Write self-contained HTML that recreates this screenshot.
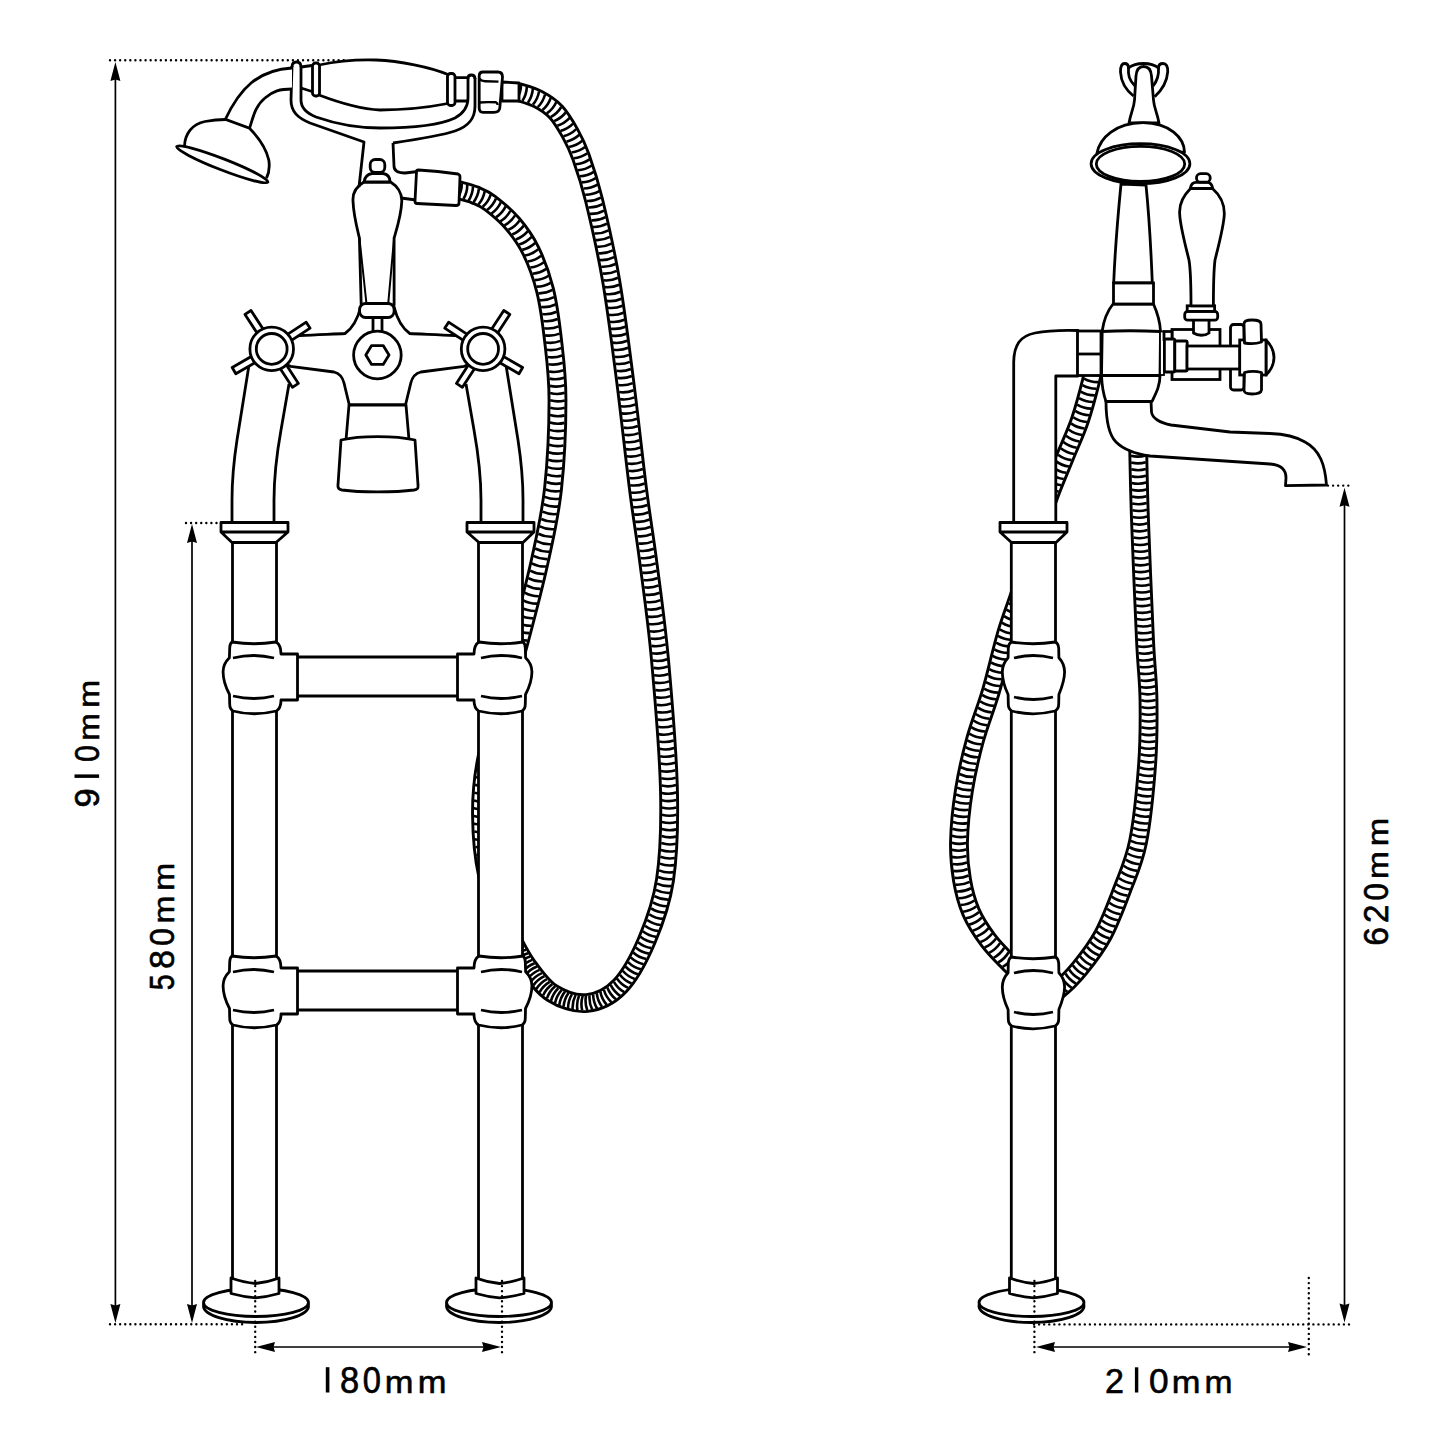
<!DOCTYPE html>
<html><head><meta charset="utf-8"><style>
html,body{margin:0;padding:0;background:#fff;}
svg{display:block;}
text{font-family:"Liberation Sans",sans-serif;fill:#000;}
</style></head><body>
<svg width="1445" height="1445" viewBox="0 0 1445 1445">
<rect width="1445" height="1445" fill="#fff"/>
<g stroke-linecap="butt">
<line x1="115.4" y1="75" x2="115.4" y2="1310" stroke="#000" stroke-width="1.7"/>
<path d="M115.4,62.0 L120.4,81.0 L115.4,79.5 L110.4,81.0 Z" fill="#000"/>
<path d="M115.4,1323.0 L120.4,1304.0 L115.4,1305.5 L110.4,1304.0 Z" fill="#000"/>
<line x1="110" y1="60.3" x2="345" y2="60.3" stroke="#000" stroke-width="2.4" stroke-linecap="round" stroke-dasharray="0.01 5.07"/>
<line x1="110" y1="1324.2" x2="246" y2="1324.2" stroke="#000" stroke-width="2.4" stroke-linecap="round" stroke-dasharray="0.01 5.07"/>
<line x1="192" y1="537" x2="192" y2="1310" stroke="#000" stroke-width="1.7"/>
<path d="M192.0,524.0 L197.0,543.0 L192.0,541.5 L187.0,543.0 Z" fill="#000"/>
<path d="M192.0,1323.0 L197.0,1304.0 L192.0,1305.5 L187.0,1304.0 Z" fill="#000"/>
<line x1="186" y1="523" x2="222" y2="523" stroke="#000" stroke-width="2.4" stroke-linecap="round" stroke-dasharray="0.01 5.07"/>
<line x1="270" y1="1347" x2="488" y2="1347" stroke="#000" stroke-width="1.7"/>
<path d="M256.0,1347.0 L275.0,1352.0 L273.5,1347.0 L275.0,1342.0 Z" fill="#000"/>
<path d="M501.0,1347.0 L482.0,1352.0 L483.5,1347.0 L482.0,1342.0 Z" fill="#000"/>
</g>
<path d="M517.0,91.5 C520.5,92.8 531.5,95.6 538.0,99.0 C544.5,102.4 550.7,106.3 556.0,112.0 C561.3,117.7 565.8,125.5 570.0,133.0 C574.2,140.5 577.0,145.8 581.0,157.0 C585.0,168.2 589.0,179.5 594.0,200.0 C599.0,220.5 605.8,250.0 611.0,280.0 C616.2,310.0 620.5,345.2 625.0,380.0 C629.5,414.8 634.2,459.0 638.0,489.0 C641.8,519.0 644.3,531.5 648.0,560.0 C651.7,588.5 656.5,621.3 660.0,660.0 C663.5,698.7 668.2,755.3 669.0,792.0 C669.8,828.7 668.7,855.3 665.0,880.0 C661.3,904.7 654.5,922.3 647.0,940.0 C639.5,957.7 630.0,975.5 620.0,986.0 C610.0,996.5 598.3,1001.8 587.0,1003.0 C575.7,1004.2 562.0,999.3 552.0,993.0 C542.0,986.7 534.0,974.7 527.0,965.0 C520.0,955.3 512.8,940.0 510.0,935.0" fill="none" stroke="#000" stroke-width="19.8" stroke-linecap="butt"/>
<path d="M517.0,91.5 C520.5,92.8 531.5,95.6 538.0,99.0 C544.5,102.4 550.7,106.3 556.0,112.0 C561.3,117.7 565.8,125.5 570.0,133.0 C574.2,140.5 577.0,145.8 581.0,157.0 C585.0,168.2 589.0,179.5 594.0,200.0 C599.0,220.5 605.8,250.0 611.0,280.0 C616.2,310.0 620.5,345.2 625.0,380.0 C629.5,414.8 634.2,459.0 638.0,489.0 C641.8,519.0 644.3,531.5 648.0,560.0 C651.7,588.5 656.5,621.3 660.0,660.0 C663.5,698.7 668.2,755.3 669.0,792.0 C669.8,828.7 668.7,855.3 665.0,880.0 C661.3,904.7 654.5,922.3 647.0,940.0 C639.5,957.7 630.0,975.5 620.0,986.0 C610.0,996.5 598.3,1001.8 587.0,1003.0 C575.7,1004.2 562.0,999.3 552.0,993.0 C542.0,986.7 534.0,974.7 527.0,965.0 C520.0,955.3 512.8,940.0 510.0,935.0" fill="none" stroke="#fff" stroke-width="14.0" stroke-linecap="butt"/>
<path d="M516.72,99.09 Q520.81,92.72 521.08,85.15 M522.45,100.85 Q526.55,94.49 526.84,86.92 M527.92,102.67 Q532.26,96.46 532.82,88.91 M532.96,104.66 Q537.82,98.86 539.05,91.40 M537.76,107.19 Q543.13,101.85 545.03,94.52 M542.48,110.11 Q548.25,105.20 550.71,98.04 M546.80,113.35 Q553.04,109.06 556.21,102.18 M550.71,117.03 Q557.38,113.44 561.28,106.96 M554.10,121.12 Q561.15,118.37 565.82,112.41 M557.33,125.82 Q564.56,123.58 569.64,117.97 M560.43,130.91 Q567.74,128.96 573.04,123.56 M563.45,136.25 Q570.81,134.45 576.21,129.15 M566.41,141.66 Q573.80,140.01 579.31,134.82 M569.09,147.01 Q576.55,145.72 582.31,140.82 M571.48,152.49 Q578.99,151.60 585.01,147.01 M573.68,158.22 Q581.22,157.60 587.40,153.22 M575.82,164.20 Q583.36,163.66 589.58,159.34 M577.89,170.20 Q585.45,169.77 591.72,165.54 M579.86,176.23 Q587.42,175.94 593.78,171.84 M581.73,182.34 Q589.29,182.18 595.72,178.19 M583.48,188.49 Q591.05,188.48 597.56,184.62 M585.15,194.73 Q592.72,194.84 599.28,191.08 M586.74,201.04 Q594.31,201.24 600.92,197.56 M588.29,207.45 Q595.86,207.69 602.49,204.04 M589.83,213.90 Q597.39,214.17 604.04,210.55 M591.35,220.39 Q598.91,220.69 605.57,217.09 M592.84,226.90 Q600.40,227.24 607.08,223.67 M594.31,233.46 Q601.87,233.83 608.56,230.29 M595.75,240.04 Q603.31,240.45 610.02,236.95 M597.16,246.65 Q604.71,247.12 611.45,243.66 M598.53,253.31 Q606.09,253.82 612.84,250.40 M599.88,260.00 Q607.42,260.56 614.20,257.19 M601.18,266.73 Q608.72,267.34 615.52,264.01 M602.43,273.50 Q609.97,274.16 616.80,270.88 M603.64,280.30 Q611.18,281.02 618.03,277.80 M604.80,287.14 Q612.33,287.92 619.20,284.75 M605.91,294.00 Q613.43,294.84 620.33,291.72 M606.98,300.90 Q614.49,301.78 621.41,298.70 M608.01,307.81 Q615.52,308.73 622.46,305.69 M609.01,314.74 Q616.52,315.70 623.47,312.69 M609.99,321.70 Q617.50,322.68 624.45,319.69 M610.95,328.67 Q618.45,329.67 625.42,326.70 M611.89,335.66 Q619.39,336.68 626.36,333.73 M612.82,342.66 Q620.31,343.69 627.29,340.76 M613.73,349.68 Q621.23,350.72 628.21,347.80 M614.64,356.71 Q622.14,357.76 629.12,354.84 M615.55,363.76 Q623.05,364.81 630.03,361.90 M616.46,370.82 Q623.95,371.87 630.94,368.96 M617.37,377.89 Q624.86,378.94 631.85,376.03 M618.28,384.96 Q625.77,386.02 632.76,383.12 M619.16,392.03 Q626.65,393.12 633.65,390.24 M620.03,399.12 Q627.52,400.22 634.52,397.36 M620.89,406.22 Q628.37,407.34 635.38,404.49 M621.73,413.34 Q629.21,414.47 636.23,411.63 M622.57,420.47 Q630.05,421.61 637.07,418.78 M623.40,427.62 Q630.88,428.76 637.90,425.94 M624.22,434.78 Q631.71,435.93 638.73,433.10 M625.05,441.95 Q632.53,443.10 639.56,440.28 M625.88,449.13 Q633.36,450.28 640.38,447.46 M626.71,456.33 Q634.20,457.47 641.22,454.64 M627.56,463.54 Q635.04,464.67 642.06,461.84 M628.41,470.76 Q635.89,471.88 642.91,469.04 M629.28,477.99 Q636.76,479.10 643.77,476.24 M630.17,485.25 Q637.66,486.33 644.66,483.45 M631.09,492.52 Q638.59,493.56 645.57,490.64 M632.05,499.79 Q639.56,500.80 646.52,497.84 M633.06,507.08 Q640.56,508.04 647.51,505.05 M634.10,514.36 Q641.61,515.29 648.55,512.26 M635.17,521.64 Q642.69,522.54 649.61,519.49 M636.26,528.91 Q643.77,529.81 650.70,526.75 M637.34,536.17 Q644.85,537.08 651.78,534.04 M638.39,543.42 Q645.90,544.37 652.84,541.36 M639.40,550.69 Q646.91,551.68 653.87,548.70 M640.37,557.96 Q647.87,559.00 654.85,556.07 M641.33,565.30 Q648.82,566.33 655.80,563.40 M642.29,572.65 Q649.79,573.67 656.77,570.73 M643.27,579.99 Q650.77,581.00 657.74,578.06 M644.24,587.32 Q651.74,588.34 658.72,585.40 M645.21,594.65 Q652.71,595.68 659.69,592.74 M646.16,601.97 Q653.66,603.02 660.64,600.10 M647.10,609.29 Q654.59,610.36 661.58,607.46 M648.00,616.60 Q655.49,617.70 662.49,614.83 M648.88,623.92 Q656.36,625.05 663.38,622.21 M649.72,631.23 Q657.20,632.40 664.23,629.60 M650.53,638.55 Q658.00,639.76 665.05,636.99 M651.30,645.88 Q658.77,647.12 665.83,644.38 M652.03,653.19 Q659.49,654.48 666.56,651.79 M652.72,660.53 Q660.17,661.85 667.26,659.19 M653.38,667.88 Q660.83,669.22 667.92,666.58 M654.03,675.24 Q661.47,676.60 668.57,673.97 M654.66,682.60 Q662.11,683.97 669.21,681.35 M655.29,689.96 Q662.73,691.34 669.84,688.74 M655.90,697.32 Q663.34,698.72 670.45,696.13 M656.49,704.68 Q663.93,706.09 671.05,703.52 M657.07,712.04 Q664.51,713.47 671.63,710.91 M657.64,719.41 Q665.07,720.85 672.20,718.30 M658.18,726.77 Q665.61,728.23 672.74,725.70 M658.71,734.13 Q666.13,735.61 673.27,733.10 M659.21,741.48 Q666.62,742.99 673.78,740.52 M659.68,748.84 Q667.09,750.38 674.25,747.93 M660.13,756.19 Q667.53,757.77 674.70,755.35 M660.54,763.55 Q667.94,765.16 675.12,762.77 M660.92,770.91 Q668.31,772.55 675.50,770.19 M661.25,778.23 Q668.62,779.94 675.83,777.65 M661.52,785.58 Q668.88,787.34 676.11,785.09 M661.72,792.89 Q669.06,794.73 676.31,792.58 M661.85,800.23 Q669.18,802.13 676.45,800.03 M661.94,807.53 Q669.25,809.47 676.54,807.41 M661.95,814.76 Q669.25,816.77 676.55,814.77 M661.90,821.93 Q669.18,824.01 676.50,822.09 M661.77,829.04 Q669.03,831.21 676.37,829.37 M661.56,836.07 Q668.78,838.35 676.15,836.63 M661.25,843.06 Q668.44,845.44 675.84,843.82 M660.85,850.00 Q668.00,852.47 675.41,850.96 M660.33,856.84 Q667.43,859.45 674.88,858.08 M659.69,863.65 Q666.75,866.37 674.22,865.12 M658.94,870.35 Q665.94,873.23 673.43,872.14 M658.05,877.04 Q665.01,880.03 672.51,879.06 M657.04,883.56 Q663.90,886.75 671.43,886.00 M655.84,889.94 Q662.59,893.36 670.14,892.87 M654.45,896.19 Q661.08,899.84 668.65,899.60 M652.88,902.33 Q659.39,906.19 666.96,906.19 M651.13,908.34 Q657.52,912.40 665.08,912.63 M649.22,914.23 Q655.49,918.47 663.05,918.92 M647.16,920.02 Q653.33,924.41 660.87,925.04 M645.00,925.68 Q651.05,930.22 658.58,931.04 M642.73,931.29 Q648.72,935.92 656.23,936.85 M640.41,936.83 Q646.36,941.52 653.86,942.53 M638.07,942.22 Q643.93,947.01 651.41,948.15 M635.67,947.44 Q641.43,952.35 648.89,953.64 M633.23,952.45 Q638.85,957.53 646.27,959.03 M630.69,957.37 Q636.21,962.55 643.59,964.20 M628.10,962.06 Q633.47,967.40 640.80,969.26 M625.47,966.50 Q630.60,972.06 637.86,974.23 M622.72,970.77 Q627.63,976.53 634.79,978.98 M619.88,974.78 Q624.51,980.77 631.55,983.55 M616.92,978.50 Q621.21,984.74 628.08,987.92 M613.92,981.79 Q617.66,988.36 624.23,992.11 M610.64,984.84 Q613.93,991.66 620.24,995.84 M607.31,987.47 Q610.01,994.54 615.93,999.25 M603.87,989.74 Q605.94,997.02 611.43,1002.23 M600.35,991.66 Q601.76,999.09 606.76,1004.77 M596.77,993.22 Q597.50,1000.75 601.97,1006.85 M593.15,994.41 Q593.21,1001.98 597.11,1008.47 M589.54,995.26 Q588.91,1002.80 592.21,1009.61 M585.98,995.76 Q584.64,1003.21 587.28,1010.30 M582.68,995.86 Q580.44,1003.09 582.19,1010.45 M579.11,995.58 Q576.27,1002.60 577.40,1010.08 M575.62,994.99 Q572.16,1001.72 572.60,1009.27 M572.01,994.09 Q568.11,1000.58 568.07,1008.15 M568.52,992.96 Q564.16,999.15 563.56,1006.70 M564.98,991.58 Q560.29,997.52 559.28,1005.02 M561.59,990.02 Q556.53,995.65 555.04,1003.07 M558.22,988.23 Q552.87,993.58 551.00,1000.91 M555.16,986.34 Q549.39,991.23 546.91,998.39 M552.30,984.18 Q546.13,988.57 543.06,995.49 M549.65,981.79 Q543.13,985.63 539.48,992.26 M547.00,979.06 Q540.28,982.54 536.28,988.97 M544.49,976.18 Q537.60,979.31 533.26,985.52 M541.99,973.09 Q535.01,976.01 530.49,982.08 M539.54,969.87 Q532.50,972.64 527.84,978.61 M537.13,966.58 Q530.04,969.23 525.29,975.13 M534.69,963.19 Q527.59,965.82 522.83,971.70 M532.30,959.86 Q525.17,962.39 520.32,968.20 M530.14,956.61 Q522.91,958.85 517.83,964.46 M528.07,953.21 Q520.77,955.23 515.52,960.69 M526.07,949.75 Q518.72,951.56 513.33,956.87 M524.10,946.16 Q516.73,947.87 511.25,953.09 M522.17,942.53 Q514.78,944.15 509.24,949.31 M520.26,938.85 Q512.85,940.42 507.28,945.54 M518.32,935.09 Q510.92,936.68 505.37,941.83" fill="none" stroke="#000" stroke-width="2.6"/>
<path d="M458.0,190.0 C460.8,190.8 469.7,192.8 475.0,195.0 C480.3,197.2 483.7,198.2 490.0,203.0 C496.3,207.8 506.2,216.0 513.0,224.0 C519.8,232.0 525.7,240.0 531.0,251.0 C536.3,262.0 541.3,275.2 545.0,290.0 C548.7,304.8 550.9,321.7 553.0,340.0 C555.1,358.3 557.5,375.2 557.5,400.0 C557.5,424.8 555.9,462.3 553.0,489.0 C550.1,515.7 545.5,534.8 540.0,560.0 C534.5,585.2 526.2,616.7 520.0,640.0 C513.8,663.3 508.7,680.0 503.0,700.0 C497.3,720.0 489.7,740.8 486.0,760.0 C482.3,779.2 480.8,795.8 481.0,815.0 C481.2,834.2 483.0,856.7 487.0,875.0 C491.0,893.3 500.3,913.3 505.0,925.0 C509.7,936.7 513.3,941.7 515.0,945.0" fill="none" stroke="#000" stroke-width="19.8" stroke-linecap="butt"/>
<path d="M458.0,190.0 C460.8,190.8 469.7,192.8 475.0,195.0 C480.3,197.2 483.7,198.2 490.0,203.0 C496.3,207.8 506.2,216.0 513.0,224.0 C519.8,232.0 525.7,240.0 531.0,251.0 C536.3,262.0 541.3,275.2 545.0,290.0 C548.7,304.8 550.9,321.7 553.0,340.0 C555.1,358.3 557.5,375.2 557.5,400.0 C557.5,424.8 555.9,462.3 553.0,489.0 C550.1,515.7 545.5,534.8 540.0,560.0 C534.5,585.2 526.2,616.7 520.0,640.0 C513.8,663.3 508.7,680.0 503.0,700.0 C497.3,720.0 489.7,740.8 486.0,760.0 C482.3,779.2 480.8,795.8 481.0,815.0 C481.2,834.2 483.0,856.7 487.0,875.0 C491.0,893.3 500.3,913.3 505.0,925.0 C509.7,936.7 513.3,941.7 515.0,945.0" fill="none" stroke="#fff" stroke-width="14.0" stroke-linecap="butt"/>
<path d="M458.08,197.59 Q461.86,191.03 461.78,183.46 M463.47,199.00 Q467.30,192.47 467.27,184.90 M468.64,200.49 Q472.74,194.13 473.02,186.56 M473.53,202.28 Q478.09,196.24 478.94,188.71 M478.47,204.34 Q483.41,198.60 484.72,191.15 M482.68,206.73 Q488.38,201.75 490.75,194.56 M487.02,209.92 Q493.09,205.40 496.01,198.41 M491.55,213.56 Q497.74,209.21 500.86,202.31 M496.00,217.36 Q502.33,213.21 505.67,206.42 M500.35,221.34 Q506.83,217.42 510.40,210.75 M504.48,225.45 Q511.16,221.90 515.09,215.43 M508.39,229.86 Q515.26,226.67 519.55,220.44 M512.21,234.56 Q519.21,231.68 523.76,225.63 M515.82,239.45 Q522.95,236.92 527.80,231.11 M519.16,244.55 Q526.43,242.43 531.60,236.91 M522.24,249.89 Q529.62,248.21 535.11,243.00 M525.08,255.53 Q532.53,254.20 538.26,249.26 M527.75,261.44 Q535.24,260.38 541.15,255.64 M530.24,267.51 Q537.76,266.71 543.84,262.19 M532.54,273.73 Q540.09,273.21 546.32,268.91 M534.66,280.13 Q542.23,279.85 548.59,275.75 M536.58,286.64 Q544.15,286.64 550.66,282.79 M538.29,293.31 Q545.86,293.57 552.50,289.94 M539.79,300.12 Q547.34,300.62 554.09,297.20 M541.10,307.02 Q548.64,307.72 555.48,304.48 M542.26,314.00 Q549.78,314.86 556.68,311.77 M543.29,321.05 Q550.80,322.04 557.75,319.06 M544.24,328.17 Q551.73,329.24 558.72,326.33 M545.11,335.34 Q552.60,336.46 559.61,333.61 M545.94,342.55 Q553.43,343.70 560.45,340.88 M546.79,349.82 Q554.28,350.96 561.29,348.12 M547.62,357.06 Q555.10,358.23 562.13,355.43 M548.38,364.25 Q555.85,365.53 562.91,362.82 M549.04,371.44 Q556.47,372.85 563.59,370.27 M549.55,378.64 Q556.96,380.20 564.13,377.76 M549.92,385.87 Q557.30,387.57 564.51,385.27 M550.13,393.08 Q557.47,394.96 564.73,392.83 M550.20,400.35 Q557.50,402.37 564.80,400.38 M550.15,407.71 Q557.43,409.79 564.75,407.86 M550.03,415.08 Q557.29,417.22 564.63,415.37 M549.85,422.47 Q557.10,424.67 564.45,422.87 M549.62,429.87 Q556.84,432.14 564.21,430.40 M549.33,437.30 Q556.54,439.61 563.92,437.92 M548.99,444.74 Q556.18,447.10 563.57,445.46 M548.59,452.19 Q555.77,454.60 563.17,453.01 M548.14,459.65 Q555.30,462.11 562.71,460.58 M547.63,467.10 Q554.76,469.64 562.19,468.18 M547.05,474.57 Q554.15,477.17 561.59,475.78 M546.38,482.03 Q553.46,484.71 560.91,483.40 M545.60,489.45 Q552.64,492.25 560.11,491.07 M544.70,496.86 Q551.68,499.79 559.18,498.75 M543.67,504.26 Q550.59,507.31 558.11,506.41 M542.49,511.64 Q549.37,514.81 556.90,514.04 M541.19,518.99 Q548.00,522.29 555.55,521.66 M539.77,526.36 Q546.54,529.75 554.09,529.21 M538.26,533.72 Q544.99,537.19 552.54,536.74 M536.67,541.11 Q543.38,544.62 550.94,544.21 M535.05,548.52 Q541.75,552.04 549.31,551.65 M533.42,555.94 Q540.12,559.46 547.68,559.07 M531.78,563.32 Q538.47,566.88 546.03,566.53 M530.10,570.67 Q536.75,574.28 544.31,574.00 M528.35,578.03 Q534.98,581.67 542.55,581.43 M526.56,585.37 Q533.17,589.06 540.74,588.86 M524.74,592.71 Q531.33,596.43 538.89,596.27 M522.88,600.06 Q529.46,603.80 537.03,603.66 M521.00,607.39 Q527.57,611.16 535.13,611.04 M519.09,614.74 Q525.66,618.51 533.22,618.42 M517.18,622.08 Q523.73,625.86 531.30,625.78 M515.24,629.42 Q521.79,633.21 529.36,633.14 M513.31,636.76 Q519.85,640.56 527.42,640.49 M511.36,644.07 Q517.88,647.90 525.45,647.87 M509.37,651.35 Q515.87,655.23 523.44,655.25 M507.33,658.64 Q513.81,662.55 521.38,662.61 M505.25,665.91 Q511.72,669.85 519.29,669.95 M503.15,673.19 Q509.60,677.15 517.17,677.27 M501.03,680.49 Q507.48,684.45 515.04,684.57 M498.90,687.80 Q505.36,691.75 512.93,691.85 M496.80,695.13 Q503.27,699.05 510.84,699.13 M494.71,702.38 Q501.15,706.35 508.72,706.49 M492.54,709.57 Q498.93,713.62 506.50,713.85 M490.30,716.79 Q496.67,720.88 504.24,721.14 M488.03,724.07 Q494.42,728.14 501.98,728.38 M485.79,731.40 Q492.22,735.41 499.78,735.58 M483.64,738.79 Q490.11,742.71 497.68,742.78 M481.61,746.30 Q488.18,750.06 495.75,749.95 M479.79,753.94 Q486.49,757.47 494.05,757.10 M478.26,761.68 Q485.09,764.94 492.63,764.27 M476.96,769.34 Q483.87,772.44 491.39,771.59 M475.87,777.05 Q482.85,779.98 490.34,778.94 M474.98,784.83 Q482.05,787.53 489.51,786.26 M474.33,792.63 Q481.48,795.11 488.90,793.60 M473.91,800.41 Q481.13,802.70 488.50,801.00 M473.71,808.22 Q480.99,810.30 488.31,808.39 M473.71,815.98 Q481.03,817.90 488.31,815.82 M473.88,823.73 Q481.24,825.50 488.48,823.27 M474.22,831.48 Q481.61,833.09 488.80,830.71 M474.72,839.22 Q482.15,840.67 489.28,838.14 M475.39,846.96 Q482.85,848.24 489.92,845.54 M476.24,854.69 Q483.73,855.79 490.73,852.92 M477.29,862.42 Q484.81,863.31 491.73,860.24 M478.58,870.15 Q486.12,870.80 492.94,867.51 M480.16,877.88 Q487.73,878.23 494.41,874.67 M482.21,885.68 Q489.78,885.54 496.22,881.57 M484.58,893.21 Q492.14,892.77 498.41,888.54 M487.20,900.58 Q494.74,899.91 500.89,895.49 M490.01,907.84 Q497.53,906.98 503.56,902.40 M492.92,914.96 Q500.43,914.00 506.40,909.36 M495.86,921.99 Q503.37,921.01 509.33,916.34 M498.73,928.97 Q506.25,928.05 512.24,923.42 M501.98,936.29 Q509.43,934.95 515.15,929.99 M505.75,943.47 Q513.08,941.61 518.45,936.27" fill="none" stroke="#000" stroke-width="2.6"/>
<g><path d="M249.5,362 L237,440 C233,466 232,482 232,500 L232,523 L274,523 L274,500 C274,480 276,458 281,430 L289,384 Z" fill="#fff" stroke="none"/>
<path d="M249.5,362 L237,440 C233,466 232,482 232,500 L232,523" fill="none" stroke="#000" stroke-width="2.8"/>
<path d="M289,384 L281,430 C276,458 274,480 274,500 L274,523" fill="none" stroke="#000" stroke-width="2.8"/>
<rect x="232.5" y="542" width="44" height="740" fill="#fff"/>
<path d="M232.5,542 V1280 M276.5,542 V1280" stroke="#000" stroke-width="2.8"/>
<path d="M221,522.5 H288 V532 H221 Z M221,532 L232,542.5 H276 L288,532" fill="#fff" stroke="#000" stroke-width="2.8" stroke-linejoin="round"/>
<g transform="translate(0,0)">
<path d="M232,642 C246,644.2 262,644.2 276,642 C279.5,644 281,649 281,654 L297.5,654 L297.5,700 L281,700 C281,705 280,709 276.4,711 C262,714.5 246,714.5 233,711 C230.5,709.5 229.7,707 229.7,704 L229.5,694.5 C225,686 223,678 223.1,671.5 C223.2,665 226,661 229.4,657.7 L229.7,648 C229.8,645 230.5,643 232,642 Z" fill="#fff" stroke="#000" stroke-width="2.8" stroke-linejoin="round"/>
<path d="M233,658 Q254,653 274,658 M233,696 Q254,701 274,696" fill="none" stroke="#000" stroke-width="2.8"/>
</g>
<g transform="translate(0,314)">
<path d="M232,642 C246,644.2 262,644.2 276,642 C279.5,644 281,649 281,654 L297.5,654 L297.5,700 L281,700 C281,705 280,709 276.4,711 C262,714.5 246,714.5 233,711 C230.5,709.5 229.7,707 229.7,704 L229.5,694.5 C225,686 223,678 223.1,671.5 C223.2,665 226,661 229.4,657.7 L229.7,648 C229.8,645 230.5,643 232,642 Z" fill="#fff" stroke="#000" stroke-width="2.8" stroke-linejoin="round"/>
<path d="M233,658 Q254,653 274,658 M233,696 Q254,701 274,696" fill="none" stroke="#000" stroke-width="2.8"/>
</g>
<ellipse cx="256" cy="1306" rx="52.5" ry="16.5" fill="#fff" stroke="#000" stroke-width="2.8"/>
<ellipse cx="256" cy="1302.5" rx="52.5" ry="14" fill="#fff" stroke="#000" stroke-width="2.8"/>
<path d="M231,1278 Q244,1282.5 255.5,1283.5 Q267,1282.5 279,1278 L279,1293.5 Q267,1297 255.5,1297.8 Q244,1297 231,1293.5 Z" fill="#fff" stroke="#000" stroke-width="2.8" stroke-linejoin="round"/></g>
<g transform="matrix(-1,0,0,1,755,0)"><path d="M249.5,362 L237,440 C233,466 232,482 232,500 L232,523 L274,523 L274,500 C274,480 276,458 281,430 L289,384 Z" fill="#fff" stroke="none"/>
<path d="M249.5,362 L237,440 C233,466 232,482 232,500 L232,523" fill="none" stroke="#000" stroke-width="2.8"/>
<path d="M289,384 L281,430 C276,458 274,480 274,500 L274,523" fill="none" stroke="#000" stroke-width="2.8"/>
<rect x="232.5" y="542" width="44" height="740" fill="#fff"/>
<path d="M232.5,542 V1280 M276.5,542 V1280" stroke="#000" stroke-width="2.8"/>
<path d="M221,522.5 H288 V532 H221 Z M221,532 L232,542.5 H276 L288,532" fill="#fff" stroke="#000" stroke-width="2.8" stroke-linejoin="round"/>
<g transform="translate(0,0)">
<path d="M232,642 C246,644.2 262,644.2 276,642 C279.5,644 281,649 281,654 L297.5,654 L297.5,700 L281,700 C281,705 280,709 276.4,711 C262,714.5 246,714.5 233,711 C230.5,709.5 229.7,707 229.7,704 L229.5,694.5 C225,686 223,678 223.1,671.5 C223.2,665 226,661 229.4,657.7 L229.7,648 C229.8,645 230.5,643 232,642 Z" fill="#fff" stroke="#000" stroke-width="2.8" stroke-linejoin="round"/>
<path d="M233,658 Q254,653 274,658 M233,696 Q254,701 274,696" fill="none" stroke="#000" stroke-width="2.8"/>
</g>
<g transform="translate(0,314)">
<path d="M232,642 C246,644.2 262,644.2 276,642 C279.5,644 281,649 281,654 L297.5,654 L297.5,700 L281,700 C281,705 280,709 276.4,711 C262,714.5 246,714.5 233,711 C230.5,709.5 229.7,707 229.7,704 L229.5,694.5 C225,686 223,678 223.1,671.5 C223.2,665 226,661 229.4,657.7 L229.7,648 C229.8,645 230.5,643 232,642 Z" fill="#fff" stroke="#000" stroke-width="2.8" stroke-linejoin="round"/>
<path d="M233,658 Q254,653 274,658 M233,696 Q254,701 274,696" fill="none" stroke="#000" stroke-width="2.8"/>
</g>
<ellipse cx="256" cy="1306" rx="52.5" ry="16.5" fill="#fff" stroke="#000" stroke-width="2.8"/>
<ellipse cx="256" cy="1302.5" rx="52.5" ry="14" fill="#fff" stroke="#000" stroke-width="2.8"/>
<path d="M231,1278 Q244,1282.5 255.5,1283.5 Q267,1282.5 279,1278 L279,1293.5 Q267,1297 255.5,1297.8 Q244,1297 231,1293.5 Z" fill="#fff" stroke="#000" stroke-width="2.8" stroke-linejoin="round"/></g>
<rect x="299" y="657" width="157" height="39" fill="#fff"/>
<path d="M297.5,657 H457.5 M297.5,696 H457.5" stroke="#000" stroke-width="2.8"/>
<rect x="299" y="971" width="157" height="39" fill="#fff"/>
<path d="M297.5,971 H457.5 M297.5,1010 H457.5" stroke="#000" stroke-width="2.8"/>
<path d="M361,306 C358,318 353,328 345,333.5 C338,334 320,334.5 300,335.5 L276,342 L276,360 L290.5,366.3 L334,372 C340,373.5 342.5,377 344,383 L349.3,405 L405.5,405 L410.8,383 C412.3,377 414.8,373.5 420.8,372 L464.3,366.3 L478.8,360 L478.8,342 L454.8,335.5 C434.8,334.5 416.8,334 409.8,333.5 C401.8,328 396.8,318 393.8,306 Z" fill="#fff" stroke="#000" stroke-width="2.8" stroke-linejoin="round"/>
<path d="M349,405 L346,440 L409,440 L406,405 Z" fill="#fff" stroke="#000" stroke-width="2.8" stroke-linejoin="round"/>
<path d="M341,440 C360,435.5 395,435.5 415,440 L418,485 C418.5,489 417,489.5 414,490 C395,492.5 360,492.5 342,490 C339,489.5 337.5,488 338,485 Z" fill="#fff" stroke="#000" stroke-width="2.8" stroke-linejoin="round"/>
<circle cx="377.4" cy="355" r="23.8" fill="#fff" stroke="#000" stroke-width="2.8"/>
<path d="M365.8,355.0 L371.6,345.6 L383.2,345.6 L389.0,355.0 L383.2,364.4 L371.6,364.4 Z" fill="#fff" stroke="#000" stroke-width="2.8" stroke-linejoin="round"/>
<path d="M373,318 V331 M382,318 V331" stroke="#000" stroke-width="2.8"/>
<path d="M264.9,331.8 L251.0,310.5 L245.0,314.4 L258.9,335.8 Z" fill="#fff" stroke="#000" stroke-width="2.8" stroke-linejoin="round"/>
<path d="M288.8,342.1 L310.1,328.2 L306.2,322.2 L284.8,336.1 Z" fill="#fff" stroke="#000" stroke-width="2.8" stroke-linejoin="round"/>
<path d="M278.5,366.0 L292.4,387.3 L298.4,383.4 L284.5,362.0 Z" fill="#fff" stroke="#000" stroke-width="2.8" stroke-linejoin="round"/>
<path d="M254.3,354.8 L232.2,367.5 L235.8,373.8 L257.9,361.0 Z" fill="#fff" stroke="#000" stroke-width="2.8" stroke-linejoin="round"/>
<circle cx="271.7" cy="348.9" r="21.8" fill="#fff" stroke="#000" stroke-width="2.8"/>
<circle cx="271.7" cy="348.9" r="15.4" fill="#fff" stroke="#000" stroke-width="2.8"/>
<path d="M495.9,335.8 L509.8,314.4 L503.8,310.5 L489.9,331.8 Z" fill="#fff" stroke="#000" stroke-width="2.8" stroke-linejoin="round"/>
<path d="M470.0,336.1 L448.6,322.2 L444.7,328.2 L466.0,342.1 Z" fill="#fff" stroke="#000" stroke-width="2.8" stroke-linejoin="round"/>
<path d="M470.3,362.0 L456.4,383.4 L462.4,387.3 L476.3,366.0 Z" fill="#fff" stroke="#000" stroke-width="2.8" stroke-linejoin="round"/>
<path d="M496.9,361.0 L519.0,373.8 L522.6,367.5 L500.5,354.8 Z" fill="#fff" stroke="#000" stroke-width="2.8" stroke-linejoin="round"/>
<circle cx="483.1" cy="348.9" r="21.8" fill="#fff" stroke="#000" stroke-width="2.8"/>
<circle cx="483.1" cy="348.9" r="15.4" fill="#fff" stroke="#000" stroke-width="2.8"/>
<path d="M364,182 C357,186 352.5,193 353,201 C353.5,215 357,228 359.4,238 L361.2,305 L394.1,305 L394.1,238 C397,228 401.3,215 401.8,201 C402,193 397,186 390.6,182 Z" fill="#fff" stroke="#000" stroke-width="2.8" stroke-linejoin="round"/>
<path d="M359.4,238 L366.5,304 M394.1,238 L388.2,304" fill="none" stroke="#000" stroke-width="2.0"/>
<rect x="359.6" y="303.5" width="34.5" height="14" rx="6" fill="#fff" stroke="#000" stroke-width="2.8"/>
<path d="M364,182 C365,176 368,174 372,173.5 L383,173.5 C387,174 390,176 390,182 Z" fill="#fff" stroke="#000" stroke-width="2.8" stroke-linejoin="round"/>
<rect x="370.2" y="159.5" width="14.6" height="13" rx="5" fill="#fff" stroke="#000" stroke-width="2.8"/>
<path d="M292,66 L291,100 C291,112 298,118 310,123 L364,142 L359,187" fill="none" stroke="#000" stroke-width="2.8" stroke-linejoin="round"/>
<path d="M401,198 L416,200" fill="none" stroke="#000" stroke-width="2.8"/>
<path d="M393,143 L394,166 C394,171 399,173 405,173 L418,171.5" fill="none" stroke="#000" stroke-width="2.8"/>
<path d="M393,143 C420,139 440,136 455,131 C469.5,126 475,118 475,106 L475,78" fill="none" stroke="#000" stroke-width="2.8"/>
<path d="M301,66 L301,100 C301,108 306,113 316,117 C336,124 356,128 380,128 C410,128 440,125 455,118 C464,113 468,106 468,98 L468,78" fill="none" stroke="#000" stroke-width="2.8"/>
<path d="M292,67 Q292,62 296.5,62 Q301,62 301,67" fill="none" stroke="#000" stroke-width="2.8"/>
<path d="M467.8,79 Q467.8,75 471.4,75 Q475,75 475,79" fill="none" stroke="#000" stroke-width="2.8"/>
<path d="M301,67 L312,65.5 M301,88 L312,91.5" fill="none" stroke="#000" stroke-width="2.8"/>
<path d="M319,65 C340,60.5 360,59.5 376,60 C400,61 430,67 448,74.5 L448,103.5 C430,107 405,110 380,110 C360,109 340,103 319,95 Z" fill="#fff" stroke="#000" stroke-width="2.8" stroke-linejoin="round"/>
<rect x="312.5" y="63" width="7" height="33" rx="3" fill="#fff" stroke="#000" stroke-width="2.8"/>
<rect x="447.5" y="73.5" width="7.5" height="32" rx="3" fill="#fff" stroke="#000" stroke-width="2.8"/>
<path d="M455,77.7 L468,77.7 M455,101 L468,101" fill="none" stroke="#000" stroke-width="2.8"/>
<path d="M502,82 L519,83 L519,101 L502,101 Z" fill="#fff" stroke="#000" stroke-width="2.8" stroke-linejoin="round"/>
<path d="M483,72 L498,72 C501,72 502.5,73.5 502.5,77 L499.8,108 C499.5,111 497.5,112.3 494,112.3 L483,112.3 C480.5,112.3 479.2,110.5 479.2,108 L479.2,76 C479.2,73.5 480.5,72 483,72 Z" fill="#fff" stroke="#000" stroke-width="2.8"/>
<path d="M479.5,78.5 Q481,81.2 485,81.2 L498.5,81.6 M479.5,102.5 Q486,101.8 496,102.3 Q497.6,102.8 497.6,105" fill="none" stroke="#000" stroke-width="2.4"/>
<path d="M418.5,170 C430,170.5 445,172 458,174 C459.5,174.5 460,175.5 460,177 L459,203 C459,205 458,205.5 456,205.5 L417,203.5 C415.5,203.5 415,202.5 415,201 L416.5,172 C416.5,170.5 417,170 418.5,170 Z" fill="#fff" stroke="#000" stroke-width="2.8" stroke-linejoin="round"/>
<path d="M225,120 C240,88 258,70 292,68 L292,89 C280,89 273,91 265,98 C255,106 253,118 249.5,128.3 Z" fill="#fff" stroke="none"/>
<path d="M225,120 C240,88 258,70 292,68" fill="none" stroke="#000" stroke-width="2.8"/>
<path d="M292,89 C280,89 273,91 265,98 C255,106 253,118 249.5,128.3" fill="none" stroke="#000" stroke-width="2.8"/>
<path d="M184.5,146 C185,134 192,124 205,121.5 C213,120 220,119.5 225.6,119.5 L249.5,128.3 C258,137 266,148 268.8,160 C270,168 268.5,174 266.5,178" fill="#fff" stroke="#000" stroke-width="2.8"/>
<ellipse cx="0" cy="0" rx="49" ry="5.6" transform="translate(222.3,164.3) rotate(21.3)" fill="#fff" stroke="#000" stroke-width="2.8"/>
<line x1="1344.5" y1="500" x2="1344.5" y2="1310" stroke="#000" stroke-width="1.7"/>
<path d="M1344.5,487.7 L1349.5,506.7 L1344.5,505.2 L1339.5,506.7 Z" fill="#000"/>
<path d="M1344.5,1322.5 L1349.5,1303.5 L1344.5,1305.0 L1339.5,1303.5 Z" fill="#000"/>
<line x1="1328" y1="485.6" x2="1352" y2="485.6" stroke="#000" stroke-width="2.4" stroke-linecap="round" stroke-dasharray="0.01 5.07"/>
<line x1="1034" y1="1324.4" x2="1352" y2="1324.4" stroke="#000" stroke-width="2.4" stroke-linecap="round" stroke-dasharray="0.01 5.07"/>
<line x1="1308.8" y1="1278" x2="1308.8" y2="1355" stroke="#000" stroke-width="2.4" stroke-linecap="round" stroke-dasharray="0.01 5.07"/>
<line x1="1050" y1="1347" x2="1294" y2="1347" stroke="#000" stroke-width="1.7"/>
<path d="M1036.0,1347.0 L1055.0,1352.0 L1053.5,1347.0 L1055.0,1342.0 Z" fill="#000"/>
<path d="M1307.0,1347.0 L1288.0,1352.0 L1289.5,1347.0 L1288.0,1342.0 Z" fill="#000"/>
<path d="M1138.0,440.0 C1138.3,453.3 1138.8,486.7 1140.0,520.0 C1141.2,553.3 1143.6,610.0 1145.0,640.0 C1146.4,670.0 1148.2,679.0 1148.5,700.0 C1148.8,721.0 1148.8,742.3 1147.0,766.0 C1145.2,789.7 1142.2,821.3 1138.0,842.0 C1133.8,862.7 1127.8,874.5 1122.0,890.0 C1116.2,905.5 1110.0,922.0 1103.0,935.0 C1096.0,948.0 1087.5,958.8 1080.0,968.0 C1072.5,977.2 1065.5,984.3 1058.0,990.0 C1050.5,995.7 1038.8,1000.0 1035.0,1002.0" fill="none" stroke="#000" stroke-width="19.8" stroke-linecap="butt"/>
<path d="M1138.0,440.0 C1138.3,453.3 1138.8,486.7 1140.0,520.0 C1141.2,553.3 1143.6,610.0 1145.0,640.0 C1146.4,670.0 1148.2,679.0 1148.5,700.0 C1148.8,721.0 1148.8,742.3 1147.0,766.0 C1145.2,789.7 1142.2,821.3 1138.0,842.0 C1133.8,862.7 1127.8,874.5 1122.0,890.0 C1116.2,905.5 1110.0,922.0 1103.0,935.0 C1096.0,948.0 1087.5,958.8 1080.0,968.0 C1072.5,977.2 1065.5,984.3 1058.0,990.0 C1050.5,995.7 1038.8,1000.0 1035.0,1002.0" fill="none" stroke="#fff" stroke-width="14.0" stroke-linecap="butt"/>
<path d="M1130.75,442.17 Q1138.09,444.00 1145.35,441.83 M1130.90,448.95 Q1138.24,450.80 1145.49,448.65 M1131.03,455.74 Q1138.37,457.60 1145.63,455.45 M1131.17,462.55 Q1138.51,464.39 1145.77,462.24 M1131.32,469.35 Q1138.66,471.19 1145.91,469.04 M1131.47,476.16 Q1138.81,477.99 1146.06,475.83 M1131.63,482.96 Q1138.97,484.79 1146.22,482.62 M1131.79,489.77 Q1139.14,491.59 1146.39,489.40 M1131.97,496.58 Q1139.33,498.38 1146.57,496.19 M1132.17,503.40 Q1139.52,505.18 1146.76,502.97 M1132.37,510.21 Q1139.73,511.98 1146.96,509.75 M1132.59,517.02 Q1139.96,518.78 1147.19,516.53 M1132.83,523.83 Q1140.20,525.57 1147.42,523.31 M1133.08,530.64 Q1140.45,532.37 1147.67,530.10 M1133.34,537.44 Q1140.71,539.16 1147.93,536.88 M1133.60,544.24 Q1140.97,545.96 1148.19,543.67 M1133.87,551.04 Q1141.24,552.75 1148.45,550.46 M1134.14,557.84 Q1141.51,559.55 1148.73,557.25 M1134.41,564.64 Q1141.79,566.34 1149.00,564.04 M1134.69,571.44 Q1142.07,573.13 1149.28,570.84 M1134.97,578.23 Q1142.35,579.93 1149.56,577.63 M1135.26,585.03 Q1142.64,586.72 1149.85,584.42 M1135.55,591.83 Q1142.93,593.52 1150.13,591.21 M1135.84,598.63 Q1143.22,600.31 1150.43,598.00 M1136.13,605.42 Q1143.51,607.10 1150.72,604.79 M1136.43,612.22 Q1143.81,613.90 1151.02,611.58 M1136.73,619.02 Q1144.11,620.69 1151.32,618.37 M1137.04,625.82 Q1144.42,627.48 1151.62,625.15 M1137.35,632.61 Q1144.73,634.28 1151.93,631.94 M1137.66,639.41 Q1145.05,641.07 1152.25,638.73 M1138.00,646.25 Q1145.40,647.86 1152.58,645.48 M1138.40,653.10 Q1145.80,654.65 1152.97,652.20 M1138.84,659.94 Q1146.26,661.43 1153.41,658.93 M1139.33,666.76 Q1146.76,668.21 1153.89,665.68 M1139.85,673.56 Q1147.28,674.99 1154.41,672.44 M1140.34,680.28 Q1147.76,681.78 1154.91,679.29 M1140.75,686.95 Q1148.15,688.57 1155.33,686.18 M1141.04,693.61 Q1148.40,695.36 1155.63,693.12 M1141.20,700.27 Q1148.53,702.16 1155.80,700.05 M1141.29,707.04 Q1148.61,708.96 1155.89,706.88 M1141.35,713.79 Q1148.65,715.76 1155.95,713.72 M1141.35,720.54 Q1148.65,722.56 1155.95,720.58 M1141.30,727.27 Q1148.58,729.36 1155.90,727.45 M1141.19,734.00 Q1148.44,736.16 1155.79,734.32 M1141.01,740.72 Q1148.25,742.95 1155.61,741.19 M1140.76,747.44 Q1147.97,749.75 1155.35,748.06 M1140.44,754.15 Q1147.62,756.54 1155.02,754.94 M1140.04,760.85 Q1147.19,763.33 1154.61,761.81 M1139.56,767.56 Q1146.69,770.11 1154.12,768.67 M1139.03,774.30 Q1146.15,776.89 1153.58,775.48 M1138.46,781.03 Q1145.56,783.66 1153.01,782.31 M1137.85,787.76 Q1144.93,790.43 1152.39,789.12 M1137.20,794.47 Q1144.26,797.20 1151.72,795.95 M1136.50,801.18 Q1143.54,803.96 1151.01,802.76 M1135.74,807.89 Q1142.76,810.72 1150.24,809.57 M1134.93,814.55 Q1141.92,817.46 1149.41,816.41 M1134.04,821.22 Q1141.00,824.20 1148.50,823.22 M1133.07,827.83 Q1139.98,830.92 1147.50,830.07 M1132.00,834.38 Q1138.84,837.63 1146.38,836.93 M1130.78,840.87 Q1137.53,844.30 1145.08,843.81 M1129.35,847.26 Q1135.98,850.92 1143.54,850.69 M1127.69,853.51 Q1134.16,857.44 1141.73,857.53 M1125.78,859.68 Q1132.09,863.86 1139.65,864.24 M1123.65,865.76 Q1129.80,870.17 1137.34,870.83 M1121.31,871.86 Q1127.36,876.40 1134.88,877.23 M1118.85,878.02 Q1124.88,882.59 1132.40,883.45 M1116.38,884.27 Q1122.46,888.77 1129.99,889.54 M1114.01,890.51 Q1120.13,894.96 1127.67,895.66 M1111.69,896.65 Q1117.80,901.11 1125.33,901.84 M1109.36,902.71 Q1115.43,907.22 1122.96,908.02 M1106.98,908.70 Q1113.00,913.29 1120.52,914.17 M1104.55,914.60 Q1110.49,919.29 1117.99,920.29 M1102.02,920.40 Q1107.86,925.21 1115.34,926.37 M1099.39,926.02 Q1105.07,931.02 1112.51,932.43 M1096.59,931.51 Q1102.09,936.71 1109.47,938.38 M1093.59,936.79 Q1098.85,942.24 1106.15,944.24 M1090.41,941.89 Q1095.44,947.55 1102.65,949.84 M1087.07,946.84 Q1091.90,952.66 1099.03,955.20 M1083.60,951.63 Q1088.26,957.59 1095.31,960.34 M1080.03,956.30 Q1084.56,962.36 1091.55,965.27 M1076.40,960.85 Q1080.82,967.00 1087.76,970.04 M1072.75,965.31 Q1077.08,971.52 1083.96,974.66 M1069.12,969.52 Q1073.25,975.86 1080.04,979.21 M1065.44,973.51 Q1069.34,980.00 1076.00,983.59 M1061.71,977.23 Q1065.29,983.90 1071.77,987.82 M1057.87,980.72 Q1061.13,987.55 1067.41,991.78 M1053.98,983.88 Q1056.82,990.90 1062.83,995.50 M1050.16,986.48 Q1052.25,993.76 1057.76,998.95 M1045.96,988.82 Q1047.56,996.22 1052.70,1001.78 M1041.54,990.99 Q1042.83,998.45 1047.74,1004.21 M1036.98,993.06 Q1038.12,1000.54 1042.91,1006.40 M1032.09,995.29 Q1033.53,1002.72 1038.56,1008.38" fill="none" stroke="#000" stroke-width="2.6"/>
<path d="M1094.0,365.0 C1093.5,367.7 1093.3,371.8 1091.0,381.0 C1088.7,390.2 1084.3,407.3 1080.0,420.0 C1075.7,432.7 1070.0,444.7 1065.0,457.0 C1060.0,469.3 1054.8,481.0 1050.0,494.0 C1045.2,507.0 1040.8,519.2 1036.0,535.0 C1031.2,550.8 1026.0,572.5 1021.0,589.0 C1016.0,605.5 1011.0,617.0 1006.0,634.0 C1001.0,651.0 996.2,673.3 991.0,691.0 C985.8,708.7 979.5,723.5 975.0,740.0 C970.5,756.5 966.7,773.0 964.0,790.0 C961.3,807.0 959.3,827.0 959.0,842.0 C958.7,857.0 960.0,868.3 962.0,880.0 C964.0,891.7 966.7,902.0 971.0,912.0 C975.3,922.0 981.8,931.7 988.0,940.0 C994.2,948.3 1001.8,955.7 1008.0,962.0 C1014.2,968.3 1022.2,975.3 1025.0,978.0" fill="none" stroke="#000" stroke-width="19.8" stroke-linecap="butt"/>
<path d="M1094.0,365.0 C1093.5,367.7 1093.3,371.8 1091.0,381.0 C1088.7,390.2 1084.3,407.3 1080.0,420.0 C1075.7,432.7 1070.0,444.7 1065.0,457.0 C1060.0,469.3 1054.8,481.0 1050.0,494.0 C1045.2,507.0 1040.8,519.2 1036.0,535.0 C1031.2,550.8 1026.0,572.5 1021.0,589.0 C1016.0,605.5 1011.0,617.0 1006.0,634.0 C1001.0,651.0 996.2,673.3 991.0,691.0 C985.8,708.7 979.5,723.5 975.0,740.0 C970.5,756.5 966.7,773.0 964.0,790.0 C961.3,807.0 959.3,827.0 959.0,842.0 C958.7,857.0 960.0,868.3 962.0,880.0 C964.0,891.7 966.7,902.0 971.0,912.0 C975.3,922.0 981.8,931.7 988.0,940.0 C994.2,948.3 1001.8,955.7 1008.0,962.0 C1014.2,968.3 1022.2,975.3 1025.0,978.0" fill="none" stroke="#fff" stroke-width="14.0" stroke-linecap="butt"/>
<path d="M1086.46,365.99 Q1093.43,368.96 1100.93,367.96 M1085.47,372.32 Q1092.27,375.66 1099.81,375.07 M1084.09,378.55 Q1090.68,382.27 1098.25,382.12 M1082.42,385.10 Q1088.99,388.86 1096.56,388.74 M1080.72,391.64 Q1087.27,395.43 1094.83,395.37 M1078.97,398.14 Q1085.48,402.00 1093.05,402.00 M1077.15,404.60 Q1083.62,408.54 1091.18,408.63 M1075.25,410.97 Q1081.63,415.04 1089.20,415.29 M1073.22,417.26 Q1079.49,421.49 1087.05,421.94 M1071.01,423.42 Q1077.13,427.87 1084.67,428.58 M1068.59,429.59 Q1074.60,434.18 1082.12,435.08 M1066.03,435.78 Q1071.98,440.46 1079.48,441.45 M1063.38,442.00 Q1069.31,446.71 1076.81,447.74 M1060.70,448.29 Q1066.66,452.97 1074.16,453.96 M1058.07,454.66 Q1064.08,459.27 1071.60,460.16 M1055.51,460.90 Q1061.48,465.55 1068.99,466.50 M1052.90,467.17 Q1058.86,471.82 1066.37,472.79 M1050.27,473.47 Q1056.26,478.11 1063.77,479.04 M1047.68,479.82 Q1053.70,484.41 1061.22,485.29 M1045.14,486.23 Q1051.22,490.74 1058.75,491.52 M1042.70,492.70 Q1048.85,497.11 1056.39,497.77 M1040.34,499.12 Q1046.51,503.50 1054.05,504.12 M1038.01,505.58 Q1044.23,509.90 1051.78,510.46 M1035.75,512.07 Q1042.01,516.33 1049.56,516.80 M1033.55,518.59 Q1039.86,522.78 1047.42,523.17 M1031.43,525.14 Q1037.78,529.26 1045.34,529.56 M1029.38,531.70 Q1035.77,535.75 1043.34,535.98 M1027.40,538.33 Q1033.86,542.28 1041.43,542.38 M1025.53,544.96 Q1032.04,548.83 1039.60,548.84 M1023.73,551.56 Q1030.26,555.39 1037.83,555.36 M1021.97,558.15 Q1028.51,561.96 1036.07,561.91 M1020.22,564.71 Q1026.75,568.53 1034.32,568.49 M1018.46,571.25 Q1024.97,575.10 1032.54,575.08 M1016.66,577.76 Q1023.16,581.65 1030.72,581.69 M1014.81,584.20 Q1021.26,588.18 1028.82,588.31 M1012.88,590.55 Q1019.23,594.67 1026.79,594.98 M1010.80,596.89 Q1017.08,601.12 1024.64,601.55 M1008.61,603.24 Q1014.84,607.54 1022.39,608.07 M1006.35,609.63 Q1012.57,613.95 1020.12,614.50 M1004.09,616.10 Q1010.33,620.37 1017.89,620.86 M1001.88,622.66 Q1008.20,626.83 1015.76,627.19 M999.79,629.28 Q1006.19,633.32 1013.75,633.55 M997.84,635.98 Q1004.33,639.87 1011.90,639.90 M996.03,642.63 Q1002.57,646.43 1010.14,646.38 M994.30,649.28 Q1000.88,653.02 1008.45,652.89 M992.63,655.90 Q999.22,659.61 1006.79,659.45 M990.98,662.50 Q997.57,666.21 1005.14,666.04 M989.32,669.08 Q995.91,672.81 1003.48,672.66 M987.65,675.61 Q994.21,679.39 1001.77,679.29 M985.92,682.12 Q992.44,685.96 1000.01,685.93 M984.11,688.54 Q990.57,692.49 998.14,692.61 M982.19,694.88 Q988.55,698.98 996.11,699.27 M980.11,701.22 Q986.40,705.44 993.96,705.86 M977.94,707.58 Q984.18,711.86 991.73,712.37 M975.70,713.99 Q981.93,718.28 989.48,718.80 M973.46,720.46 Q979.72,724.71 987.27,725.18 M971.27,727.04 Q977.60,731.17 985.16,731.51 M969.20,733.70 Q975.64,737.68 983.20,737.83 M967.32,740.41 Q973.85,744.25 981.42,744.22 M965.57,747.08 Q972.15,750.83 979.71,750.70 M963.90,753.76 Q970.52,757.43 978.08,757.22 M962.31,760.47 Q968.98,764.05 976.54,763.74 M960.81,767.23 Q967.54,770.70 975.09,770.26 M959.42,774.00 Q966.20,777.37 973.75,776.81 M958.15,780.79 Q964.98,784.06 972.51,783.38 M956.98,787.65 Q963.88,790.77 971.40,789.94 M955.95,794.48 Q962.89,797.49 970.40,796.54 M955.02,801.33 Q962.01,804.24 969.50,803.18 M954.19,808.18 Q961.22,810.99 968.70,809.82 M953.46,815.05 Q960.53,817.76 967.99,816.48 M952.83,821.93 Q959.93,824.53 967.38,823.14 M952.30,828.83 Q959.46,831.31 966.87,829.80 M951.91,835.76 Q959.11,838.10 966.50,836.45 M951.68,842.76 Q958.94,844.90 966.28,843.05 M951.68,849.84 Q959.01,851.70 966.27,849.56 M951.92,856.86 Q959.32,858.48 966.50,856.10 M952.45,863.93 Q959.91,865.23 966.98,862.54 M953.23,870.89 Q960.73,871.93 967.71,869.01 M954.23,877.79 Q961.76,878.60 968.65,875.47 M955.41,884.59 Q962.95,885.23 969.76,881.93 M956.81,891.44 Q964.37,891.80 971.06,888.25 M958.51,898.27 Q966.08,898.28 972.59,894.44 M960.55,905.04 Q968.11,904.66 974.42,900.48 M963.00,911.77 Q970.52,910.90 976.54,906.32 M965.87,918.33 Q973.31,916.95 979.01,911.97 M969.15,924.63 Q976.49,922.80 981.88,917.48 M972.72,930.65 Q979.97,928.46 985.08,922.89 M976.50,936.43 Q983.66,933.97 988.56,928.20 M980.43,942.01 Q987.51,939.35 992.25,933.44 M984.61,947.55 Q991.56,944.57 996.02,938.45 M989.11,952.86 Q995.89,949.49 1000.00,943.14 M993.67,957.79 Q1000.34,954.21 1004.25,947.73 M998.23,962.48 Q1004.83,958.78 1008.63,952.23 M1002.65,966.97 Q1009.27,963.30 1013.10,956.77 M1007.26,971.54 Q1013.76,967.67 1017.39,961.03 M1011.88,975.89 Q1018.30,971.89 1021.79,965.17 M1016.45,980.07 Q1022.83,976.01 1026.26,969.26" fill="none" stroke="#000" stroke-width="2.6"/>
<path d="M1013.7,523 L1013.7,362 C1014,345 1020,336 1035,333 C1045,331 1060,330 1078,330.5 L1078,376 L1055.8,376 L1055.8,523 Z" fill="#fff" stroke="#000" stroke-width="2.8" stroke-linejoin="round"/>
<rect x="1011.3" y="542" width="44.2" height="740" fill="#fff"/>
<path d="M1011.3,542 V1280 M1055.5,542 V1280" stroke="#000" stroke-width="2.8"/>
<path d="M1000,522.5 H1067 V532 H1000 Z M1000,532 L1011.5,542.5 H1056 L1067,532" fill="#fff" stroke="#000" stroke-width="2.8" stroke-linejoin="round"/>
<g transform="translate(0,0)">
<path d="M1011.4,642 C1025,644.2 1041,644.2 1055.4,642 C1057.5,643 1058.5,645.5 1058.7,648 L1058.9,657.7 C1062,661 1064.5,665 1064.6,672 C1064.5,679 1062,687 1058.9,694.5 L1058.7,704 C1058.7,707 1058,709.5 1055,711 C1041,714.5 1025,714.5 1011.8,711 C1009,709.5 1008.3,707 1008.3,704 L1008.1,694.5 C1004.5,687 1002.4,679 1002.3,672 C1002.4,665 1005,661 1008.1,657.7 L1008.3,648 C1008.5,645.5 1009.5,643 1011.4,642 Z" fill="#fff" stroke="#000" stroke-width="2.8" stroke-linejoin="round"/>
<path d="M1014,658 Q1033.5,653 1053,658 M1014,697 Q1033.5,702 1053,697" fill="none" stroke="#000" stroke-width="2.8"/>
</g>
<g transform="translate(0,315)">
<path d="M1011.4,642 C1025,644.2 1041,644.2 1055.4,642 C1057.5,643 1058.5,645.5 1058.7,648 L1058.9,657.7 C1062,661 1064.5,665 1064.6,672 C1064.5,679 1062,687 1058.9,694.5 L1058.7,704 C1058.7,707 1058,709.5 1055,711 C1041,714.5 1025,714.5 1011.8,711 C1009,709.5 1008.3,707 1008.3,704 L1008.1,694.5 C1004.5,687 1002.4,679 1002.3,672 C1002.4,665 1005,661 1008.1,657.7 L1008.3,648 C1008.5,645.5 1009.5,643 1011.4,642 Z" fill="#fff" stroke="#000" stroke-width="2.8" stroke-linejoin="round"/>
<path d="M1014,658 Q1033.5,653 1053,658 M1014,697 Q1033.5,702 1053,697" fill="none" stroke="#000" stroke-width="2.8"/>
</g>
<ellipse cx="1031.5" cy="1306" rx="52.5" ry="16.5" fill="#fff" stroke="#000" stroke-width="2.8"/>
<ellipse cx="1031.5" cy="1302.5" rx="52.5" ry="14" fill="#fff" stroke="#000" stroke-width="2.8"/>
<path d="M1009.5,1278 Q1022,1282.5 1033.5,1283.5 Q1045,1282.5 1057.5,1278 L1057.5,1293.5 Q1045,1297 1033.5,1297.8 Q1022,1297 1009.5,1293.5 Z" fill="#fff" stroke="#000" stroke-width="2.8" stroke-linejoin="round"/>
<path d="M1106,401 C1106,418 1108,434 1116,442 C1124,450 1136,454 1150,456 L1210,460 L1270,464 C1282,465 1286,470 1286,478 L1285.5,485.6 L1326.5,485 C1325,465 1320,450 1305,442 C1295,436 1285,434 1270,433.5 L1230,432 L1171,425 C1160,423 1152,418 1151.5,412 L1151,401 Z" fill="#fff" stroke="#000" stroke-width="2.8" stroke-linejoin="round"/>
<path d="M1113,304 C1109,309 1104,318 1102.2,331 L1101.5,375.5 C1102,388 1104,396 1106,401.5 L1152,401.5 C1156,393 1160,386 1160,375.5 L1160.5,331 C1160,322 1157,312 1153.5,304 Z" fill="#fff" stroke="#000" stroke-width="2.8" stroke-linejoin="round"/>
<path d="M1101.5,331.5 C1120,330.5 1140,330.5 1160.5,331.5 M1101.5,375.5 L1160.5,375.5" fill="none" stroke="#000" stroke-width="2.8"/>
<rect x="1077.5" y="331" width="23.5" height="44.5" fill="#fff" stroke="#000" stroke-width="2.8"/>
<path d="M1077.5,354 H1101" stroke="#000" stroke-width="2.8"/>
<path d="M1121,184 C1118,215 1115,250 1113.7,283 L1152.3,283 C1151,250 1149,215 1146,185 Z" fill="#fff" stroke="#000" stroke-width="2.8" stroke-linejoin="round"/>
<rect x="1113.5" y="283" width="40" height="21" fill="#fff" stroke="#000" stroke-width="2.8"/>
<rect x="1172" y="329.5" width="48" height="50" fill="#fff" stroke="#000" stroke-width="2.8"/>
<rect x="1160" y="331.5" width="4" height="43.5" fill="#fff" stroke="#000" stroke-width="1.8"/>
<rect x="1164" y="331.5" width="8" height="8" fill="#fff" stroke="#000" stroke-width="2.8"/>
<rect x="1164.4" y="339" width="10.4" height="33" rx="1.5" fill="#fff" stroke="#000" stroke-width="2.8"/>
<rect x="1174.8" y="341" width="12.4" height="30" rx="1.5" fill="#fff" stroke="#000" stroke-width="2.8"/>
<rect x="1230.5" y="324.5" width="13.5" height="35" rx="3" fill="#fff" stroke="#000" stroke-width="2.8"/>
<rect x="1230.5" y="358" width="13.5" height="32" rx="3" fill="#fff" stroke="#000" stroke-width="2.8"/>
<rect x="1187" y="346" width="53" height="23" fill="#fff" stroke="#000" stroke-width="2.8"/>
<path d="M1193.5,318 L1193.5,333 C1198,336 1205,336 1209,333 L1209,318 Z" fill="#fff" stroke="#000" stroke-width="2.8" stroke-linejoin="round"/>
<rect x="1184.7" y="311.4" width="33" height="8.8" rx="3" fill="#fff" stroke="#000" stroke-width="2.8"/>
<rect x="1187.2" y="305.8" width="27.4" height="5.6" fill="#fff" stroke="#000" stroke-width="2.8"/>
<path d="M1190.3,188.7 C1183,196 1179,205 1179.7,214 C1180,225 1184,240 1189,260 C1191,272 1191,290 1191,305.8 L1213.4,305.8 C1213.4,290 1213.5,272 1215,260 C1220,240 1224,225 1224.3,214 C1224.5,205 1221,196 1212.7,188.7 Z" fill="#fff" stroke="#000" stroke-width="2.8" stroke-linejoin="round"/>
<path d="M1190.3,188.5 C1191,184 1193,182.4 1196,182.4 L1207,182.4 C1210,182.4 1212,184 1212.7,188.5 Z" fill="#fff" stroke="#000" stroke-width="2.8" stroke-linejoin="round"/>
<rect x="1196.5" y="173.7" width="13.7" height="8.5" rx="4" fill="#fff" stroke="#000" stroke-width="2.8"/>
<path d="M1266,340 C1272,346 1274,352 1274,357.5 C1274,363 1272,369 1266,375 Z" fill="#fff" stroke="#000" stroke-width="2.8" stroke-linejoin="round"/>
<rect x="1239.7" y="340" width="26.3" height="35" fill="#fff" stroke="#000" stroke-width="2.8"/>
<path d="M1244.5,343 L1244,324 C1244,321 1246,320 1252,320 C1258,320 1261,321 1261,324 L1261.5,342 C1256,344 1250,344 1244.5,343 Z" fill="#fff" stroke="#000" stroke-width="2.8" stroke-linejoin="round"/>
<path d="M1244.5,372.5 C1250,371 1256,371 1261.5,372.5 L1261.5,390 C1261,393 1258,394 1252,394 C1246,394 1244,393 1244,390 Z" fill="#fff" stroke="#000" stroke-width="2.8" stroke-linejoin="round"/>
<path d="M1128.5,68 C1128,75 1129,80 1135,86 M1158.5,68 C1159,75 1158,80 1153,86" fill="none" stroke="#000" stroke-width="2.8"/>
<path d="M1133.5,96 C1126,90 1121,82 1120.5,72 C1120.5,66 1122,63.5 1124.5,63.5 C1127,63.5 1128.5,65 1128.5,68 C1136,62 1151,62 1158.5,68 C1158.5,65 1160,63.5 1163,63.5 C1166,63.5 1168,66 1167.7,72 C1167,82 1162,90 1154.7,96.7" fill="none" stroke="#000" stroke-width="2.8" stroke-linejoin="round"/>
<path d="M1129,123 C1131,112 1134,108 1134.5,100 L1136,76 C1136.5,70 1139,66.5 1143.5,66.5 C1148,66.5 1151,70 1151.5,76 L1153.5,100 C1154,108 1157,112 1159,123 Z" fill="#fff" stroke="#000" stroke-width="2.8" stroke-linejoin="round"/>
<path d="M1097,153 C1100,138 1115,123 1143,122.7 C1170,123 1184,138 1184.5,152 Z" fill="#fff" stroke="#000" stroke-width="2.8" stroke-linejoin="round"/>
<ellipse cx="1140.5" cy="163.7" rx="49.4" ry="20" fill="#fff" stroke="#000" stroke-width="2.8"/>
<ellipse cx="1140.5" cy="163.9" rx="44.2" ry="17.6" fill="#fff" stroke="#000" stroke-width="2.8"/>
<line x1="255.2" y1="1281" x2="255.2" y2="1355" stroke="#000" stroke-width="2.4" stroke-linecap="round" stroke-dasharray="0.01 5.07"/>
<line x1="502" y1="1281" x2="502" y2="1355" stroke="#000" stroke-width="2.4" stroke-linecap="round" stroke-dasharray="0.01 5.07"/>
<line x1="1034.4" y1="1281" x2="1034.4" y2="1355" stroke="#000" stroke-width="2.4" stroke-linecap="round" stroke-dasharray="0.01 5.07"/>
<rect x="325.80" y="1367.20" width="3.60" height="25.30" fill="#000"/>
<text x="0" y="0" font-size="100" stroke="#000" stroke-width="1.8" transform="translate(340.05,1392.50) scale(0.3447,0.3614)">8</text>
<text x="0" y="0" font-size="100" stroke="#000" stroke-width="1.8" transform="translate(362.79,1392.50) scale(0.3271,0.3614)">0</text>
<text x="0" y="0" font-size="100" stroke="#000" stroke-width="1.8" transform="translate(384.76,1392.50) scale(0.3447,0.3185)">m</text>
<text x="0" y="0" font-size="100" stroke="#000" stroke-width="1.8" transform="translate(417.66,1392.50) scale(0.3447,0.3185)">m</text>
<text x="0" y="0" font-size="100" stroke="#000" stroke-width="1.8" transform="translate(1105.10,1392.50) scale(0.3407,0.3600)">2</text>
<rect x="1134.90" y="1367.30" width="3.40" height="25.20" fill="#000"/>
<text x="0" y="0" font-size="100" stroke="#000" stroke-width="1.8" transform="translate(1148.99,1392.50) scale(0.3521,0.3600)">0</text>
<text x="0" y="0" font-size="100" stroke="#000" stroke-width="1.8" transform="translate(1171.86,1392.50) scale(0.3447,0.3185)">m</text>
<text x="0" y="0" font-size="100" stroke="#000" stroke-width="1.8" transform="translate(1204.41,1392.50) scale(0.3362,0.3185)">m</text>
<g transform="translate(99.10,0) rotate(-90)"><text x="0" y="0" font-size="100" stroke="#000" stroke-width="1.8" transform="translate(-807.56,0) scale(0.3462,0.3514)">9</text></g>
<rect x="74.50" y="774.40" width="24.60" height="3.50" fill="#000"/>
<g transform="translate(99.10,0) rotate(-90)"><text x="0" y="0" font-size="100" stroke="#000" stroke-width="1.8" transform="translate(-762.01,0) scale(0.3021,0.3514)">0</text></g>
<g transform="translate(99.10,0) rotate(-90)"><text x="0" y="0" font-size="100" stroke="#000" stroke-width="1.8" transform="translate(-740.87,0) scale(0.3333,0.3037)">m</text></g>
<g transform="translate(99.10,0) rotate(-90)"><text x="0" y="0" font-size="100" stroke="#000" stroke-width="1.8" transform="translate(-707.78,0) scale(0.3348,0.3037)">m</text></g>
<g transform="translate(174.10,0) rotate(-90)"><text x="0" y="0" font-size="100" stroke="#000" stroke-width="1.8" transform="translate(-990.15,0) scale(0.2863,0.3565)">5</text></g>
<g transform="translate(174.10,0) rotate(-90)"><text x="0" y="0" font-size="100" stroke="#000" stroke-width="1.8" transform="translate(-968.94,0) scale(0.3426,0.3514)">8</text></g>
<g transform="translate(174.10,0) rotate(-90)"><text x="0" y="0" font-size="100" stroke="#000" stroke-width="1.8" transform="translate(-946.09,0) scale(0.3229,0.3514)">0</text></g>
<g transform="translate(174.10,0) rotate(-90)"><text x="0" y="0" font-size="100" stroke="#000" stroke-width="1.8" transform="translate(-923.38,0) scale(0.3348,0.3037)">m</text></g>
<g transform="translate(174.10,0) rotate(-90)"><text x="0" y="0" font-size="100" stroke="#000" stroke-width="1.8" transform="translate(-890.78,0) scale(0.3348,0.3037)">m</text></g>
<g transform="translate(1388.10,0) rotate(-90)"><text x="0" y="0" font-size="100" stroke="#000" stroke-width="1.8" transform="translate(-945.68,0) scale(0.3355,0.3586)">6</text></g>
<g transform="translate(1388.10,0) rotate(-90)"><text x="0" y="0" font-size="100" stroke="#000" stroke-width="1.8" transform="translate(-923.06,0) scale(0.3319,0.3586)">2</text></g>
<g transform="translate(1388.10,0) rotate(-90)"><text x="0" y="0" font-size="100" stroke="#000" stroke-width="1.8" transform="translate(-900.55,0) scale(0.3125,0.3586)">0</text></g>
<g transform="translate(1388.10,0) rotate(-90)"><text x="0" y="0" font-size="100" stroke="#000" stroke-width="1.8" transform="translate(-878.88,0) scale(0.3348,0.3037)">m</text></g>
<g transform="translate(1388.10,0) rotate(-90)"><text x="0" y="0" font-size="100" stroke="#000" stroke-width="1.8" transform="translate(-846.32,0) scale(0.3418,0.3037)">m</text></g>
</svg></body></html>
